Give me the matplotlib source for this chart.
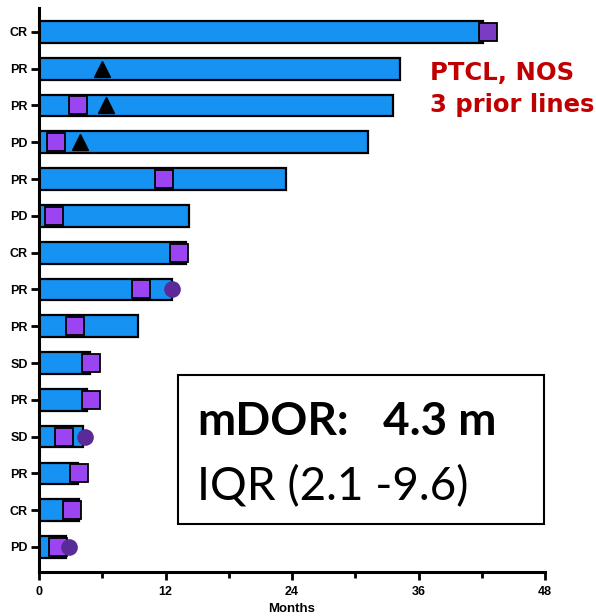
import matplotlib
matplotlib.use("Agg")
import matplotlib.pyplot as plt
from matplotlib.patches import Rectangle
import numpy as np

# Patient swimmer lanes, top to bottom
responses = ["CR", "PR", "PR", "PD", "PR", "PD", "CR", "PR", "PR", "SD", "PR", "SD", "PR", "CR", "PD"]
duration = [42.1, 34.2, 33.6, 31.2, 23.4, 14.2, 13.9, 12.6, 9.4, 4.8, 4.6, 4.2, 3.7, 3.8, 2.6]
# response onset (square), per lane; None = no marker
response_onset = [42.6, None, 3.7, 1.6, 11.9, 1.4, 13.3, 9.7, 3.4, 4.9, 4.9, 2.4, 3.8, 3.1, 1.8]
# ongoing / event marker (triangle)
triangle_at = [None, 6.0, 6.4, 3.9, None, None, None, None, None, None, None, None, None, None, None]
# progression marker (circle)
circle_at = [None, None, None, None, None, None, None, 12.6, None, None, None, 4.4, None, None, 2.8]

x_ticks = [0, 12, 24, 36, 48]
x_minor = [6, 18, 30, 42]

BAR_BLUE = "#1592F2"
SQ_PURPLE = "#9B45F2"
SQ_DARK = "#7B3CC4"
CIRCLE = "#5A2B98"
TICK_FONT = dict(fontsize=9, fontweight="bold", family="Liberation Sans")

fig = plt.figure(figsize=(5.96, 6.16), dpi=100)
ax = fig.add_axes([39 / 596, 1 - 572 / 616, (545 - 39) / 596, (572 - 8) / 616])

y = np.arange(len(responses))
ax.barh(y, duration, height=0.59, left=0, color=BAR_BLUE, edgecolor="black", linewidth=1.6, zorder=2)

for i in range(len(responses)):
    if response_onset[i] is not None:
        c = SQ_DARK if i == 0 else SQ_PURPLE
        ax.plot(response_onset[i], y[i], marker="s", markersize=13.5, color=c,
                markeredgecolor="black", markeredgewidth=1.3, zorder=4, linestyle="none")
    if triangle_at[i] is not None:
        ax.plot(triangle_at[i], y[i], marker="^", markersize=12, color="black",
                zorder=4, linestyle="none")
    if circle_at[i] is not None:
        ax.plot(circle_at[i], y[i], marker="o", markersize=12, color=CIRCLE,
                markeredgewidth=0, zorder=5, linestyle="none")

ax.set_xlim(0, 48)
ax.set_ylim(len(responses) - 1 + 0.68, -0.65)
ax.set_yticks(y)
ax.set_yticklabels(responses, **TICK_FONT)
ax.set_xticks(x_ticks)
ax.set_xticklabels([str(t) for t in x_ticks], **TICK_FONT)
ax.set_xticks(x_minor, minor=True)
ax.tick_params(axis="x", which="major", length=6, width=2, pad=4)
ax.tick_params(axis="x", which="minor", length=4, width=2)
ax.tick_params(axis="y", which="major", length=6, width=2, pad=2)
for s in ["top", "right"]:
    ax.spines[s].set_visible(False)
for s in ["left", "bottom"]:
    ax.spines[s].set_linewidth(2.2)
ax.set_xlabel("Months", fontsize=9.5, fontweight="bold", family="Liberation Sans", labelpad=4)

# Annotation in red
fig.text(430 / 596, 1 - 79.5 / 616, "PTCL, NOS", color="#C00000", fontsize=17.5,
         fontweight="bold", family="DejaVu Sans", ha="left", va="baseline")
fig.text(430 / 596, 1 - 112 / 616, "3 prior lines", color="#C00000", fontsize=17.5,
         fontweight="bold", family="DejaVu Sans", ha="left", va="baseline")

# Summary box
fig.patches.append(Rectangle((178 / 596, 1 - 524 / 616), (544 - 178) / 596, (524 - 375) / 616,
                             transform=fig.transFigure, facecolor="white", edgecolor="black",
                             linewidth=1.5, zorder=10))
fig.text(197 / 596, 1 - 435 / 616, "mDOR:", fontsize=33, fontweight="bold", family="Lato",
         ha="left", va="baseline", zorder=11)
fig.text(383 / 596, 1 - 435 / 616, "4.3 m", fontsize=33, fontweight="bold", family="Lato",
         ha="left", va="baseline", zorder=11)
fig.text(197 / 596, 1 - 500 / 616, "IQR (2.1 -9.6)", fontsize=33, family="Lato",
         ha="left", va="baseline", zorder=11)

fig.savefig("out.png", dpi=100)
